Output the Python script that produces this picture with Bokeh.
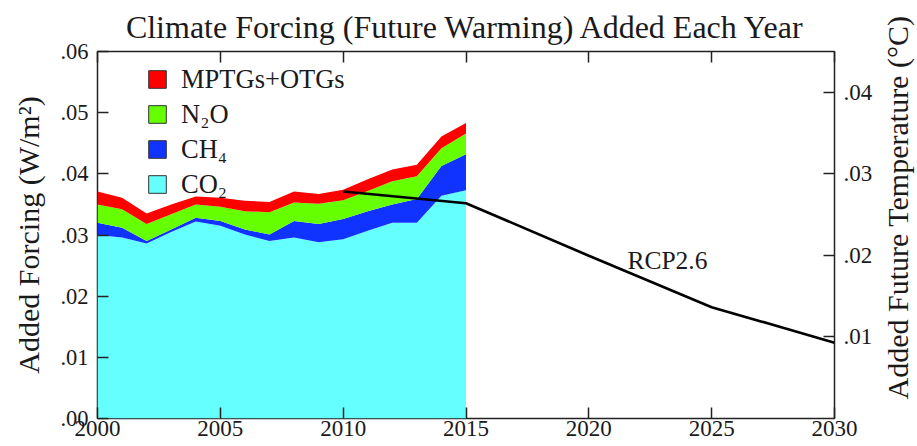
import math
from bokeh.plotting import figure
from bokeh.models import (ColumnDataSource, Range1d, LinearAxis, FixedTicker,
                          CustomJSTickFormatter, Legend, LegendItem, Label)
from bokeh.core.properties import value
from bokeh.embed import file_html
from bokeh.resources import INLINE

# ---- data ----
years = list(range(2000, 2016))
co2 = [0.0300, 0.0296, 0.0286, 0.0305, 0.0322, 0.0315, 0.0301, 0.0290,
       0.0296, 0.0288, 0.0293, 0.0307, 0.0320, 0.0320, 0.0364, 0.0373]
ch4 = [0.0020, 0.0016, 0.0004, 0.0004, 0.0006, 0.0008, 0.0008, 0.0011,
       0.0027, 0.0030, 0.0033, 0.0032, 0.0030, 0.0039, 0.0049, 0.0059]
n2o = [0.0030, 0.0030, 0.0028, 0.0025, 0.0022, 0.0023, 0.0030, 0.0036,
       0.0030, 0.0033, 0.0031, 0.0033, 0.0038, 0.0037, 0.0029, 0.0034]
other = [0.0021, 0.0019, 0.0017, 0.0016, 0.0013, 0.0015, 0.0017, 0.0017,
         0.0018, 0.0016, 0.0017, 0.0019, 0.0019, 0.0019, 0.0019, 0.0017]

rcp_years = [2010, 2015, 2020, 2025, 2030]
rcp_forcing = [0.0371, 0.0352, 0.0266, 0.0182, 0.0124]
rcp_label = "RCP2.6"
rcp_label_pos = (2023.2, 0.0259)

series_keys = ["co2", "ch4", "n2o", "other"]
series_labels = ["CO\u2082", "CH\u2084", "N\u2082O", "MPTGs+OTGs"]
series_colors = ["#66FFFF", "#1133FF", "#66FF00", "#FF0000"]

x_ticks = [2000, 2005, 2010, 2015, 2020, 2025, 2030]
left_ticks = [0.0, 0.01, 0.02, 0.03, 0.04, 0.05, 0.06]
right_ticks = [0.01, 0.02, 0.03, 0.04]
temp_range = (0.0, 0.045)

left_title = "Added Forcing (W/m\u00b2)"
right_title = "Added Future Temperature (\u00b0C)"
main_title = "Climate Forcing (Future Warming) Added Each Year"

FONT = "Liberation Serif"
TXT = "#1a1a1a"
NAN = float("nan")

src = ColumnDataSource(dict(year=years, co2=co2, ch4=ch4, n2o=n2o, other=other))

p = figure(width=917, height=446, x_range=Range1d(2000, 2030), y_range=Range1d(0, 0.06),
           output_backend="svg", toolbar_location=None,
           min_border_left=97, min_border_right=83, min_border_top=49, min_border_bottom=28)
p.extra_y_ranges = {"temp": Range1d(*temp_range)}

p.xgrid.visible = False
p.ygrid.visible = False
p.outline_line_color = "#222222"
p.outline_line_width = 1.5
p.background_fill_color = "white"
p.border_fill_color = "white"

areas = p.varea_stack(stackers=series_keys, x="year", color=series_colors, source=src)

p.line(rcp_years, rcp_forcing, line_color="black", line_width=2.6)
p.text(x=[rcp_label_pos[0]], y=[rcp_label_pos[1]], text=[rcp_label],
       text_font=value(FONT), text_font_size="25.5px", text_color=TXT,
       text_align="center", text_baseline="middle")

# legend proxies (bordered boxes, nothing drawn in the plot area)
items = []
for key, lab, col in reversed(list(zip(series_keys, series_labels, series_colors))):
    r = p.quad(left=[NAN], right=[NAN], bottom=[NAN], top=[NAN], fill_color=col,
               line_color="#333333", line_width=1)
    items.append(LegendItem(label=lab, renderers=[r]))
legend = Legend(items=items, location=(49, 217), orientation="vertical",
                background_fill_alpha=0, border_line_alpha=0, padding=0, margin=0,
                spacing=1, glyph_width=22, glyph_height=22, label_height=34,
                label_standoff=13, label_text_font=FONT, label_text_font_size="26.5px",
                label_text_color=TXT)
p.add_layout(legend)

fmt = CustomJSTickFormatter(code="return tick.toFixed(2).replace(/^0/, '');")

def style_axis(ax):
    ax.axis_line_color = None
    ax.major_tick_in = 11
    ax.major_tick_out = 0
    ax.major_tick_line_color = "#222222"
    ax.major_tick_line_width = 1.5
    ax.minor_tick_line_color = None
    ax.major_label_text_font = FONT
    ax.major_label_text_color = TXT
    ax.axis_label_text_font = FONT
    ax.axis_label_text_font_style = "normal"
    ax.axis_label_text_color = TXT

xa = p.xaxis[0]
style_axis(xa)
xa.ticker = FixedTicker(ticks=x_ticks)
xa.major_label_text_font_size = "23px"
xa.major_label_standoff = 2

ya = p.yaxis[0]
style_axis(ya)
ya.ticker = FixedTicker(ticks=left_ticks)
ya.formatter = fmt
ya.major_label_text_font_size = "22.5px"
ya.major_label_standoff = 9
ya.axis_label = left_title
ya.axis_label_text_font_size = "30px"
ya.axis_label_standoff = 12

top = LinearAxis(ticker=FixedTicker(ticks=x_ticks))
style_axis(top)
top.major_label_text_font_size = "1px"
top.major_label_text_color = None
top.major_label_standoff = 0
p.add_layout(top, "above")

ra = LinearAxis(y_range_name="temp", ticker=FixedTicker(ticks=right_ticks), formatter=fmt)
style_axis(ra)
ra.major_label_text_font_size = "23px"
ra.major_label_standoff = 9
p.add_layout(ra, "right")

# right-hand axis title in its own side panel, reading bottom-to-top as in the reference
p.add_layout(Label(x=22, y=211, x_units="screen", y_units="screen", text=right_title,
                   angle=math.pi / 2, text_align="center", text_baseline="middle",
                   text_font=FONT, text_font_size="30px", text_color=TXT), "right")

p.title.text = main_title
p.title.align = "center"
p.title.text_font = FONT
p.title.text_font_size = "32px"
p.title.text_font_style = "normal"
p.title.text_color = TXT
p.title.standoff = 13
p.title.offset = 3

open("out.html", "w").write(file_html(p, INLINE))
